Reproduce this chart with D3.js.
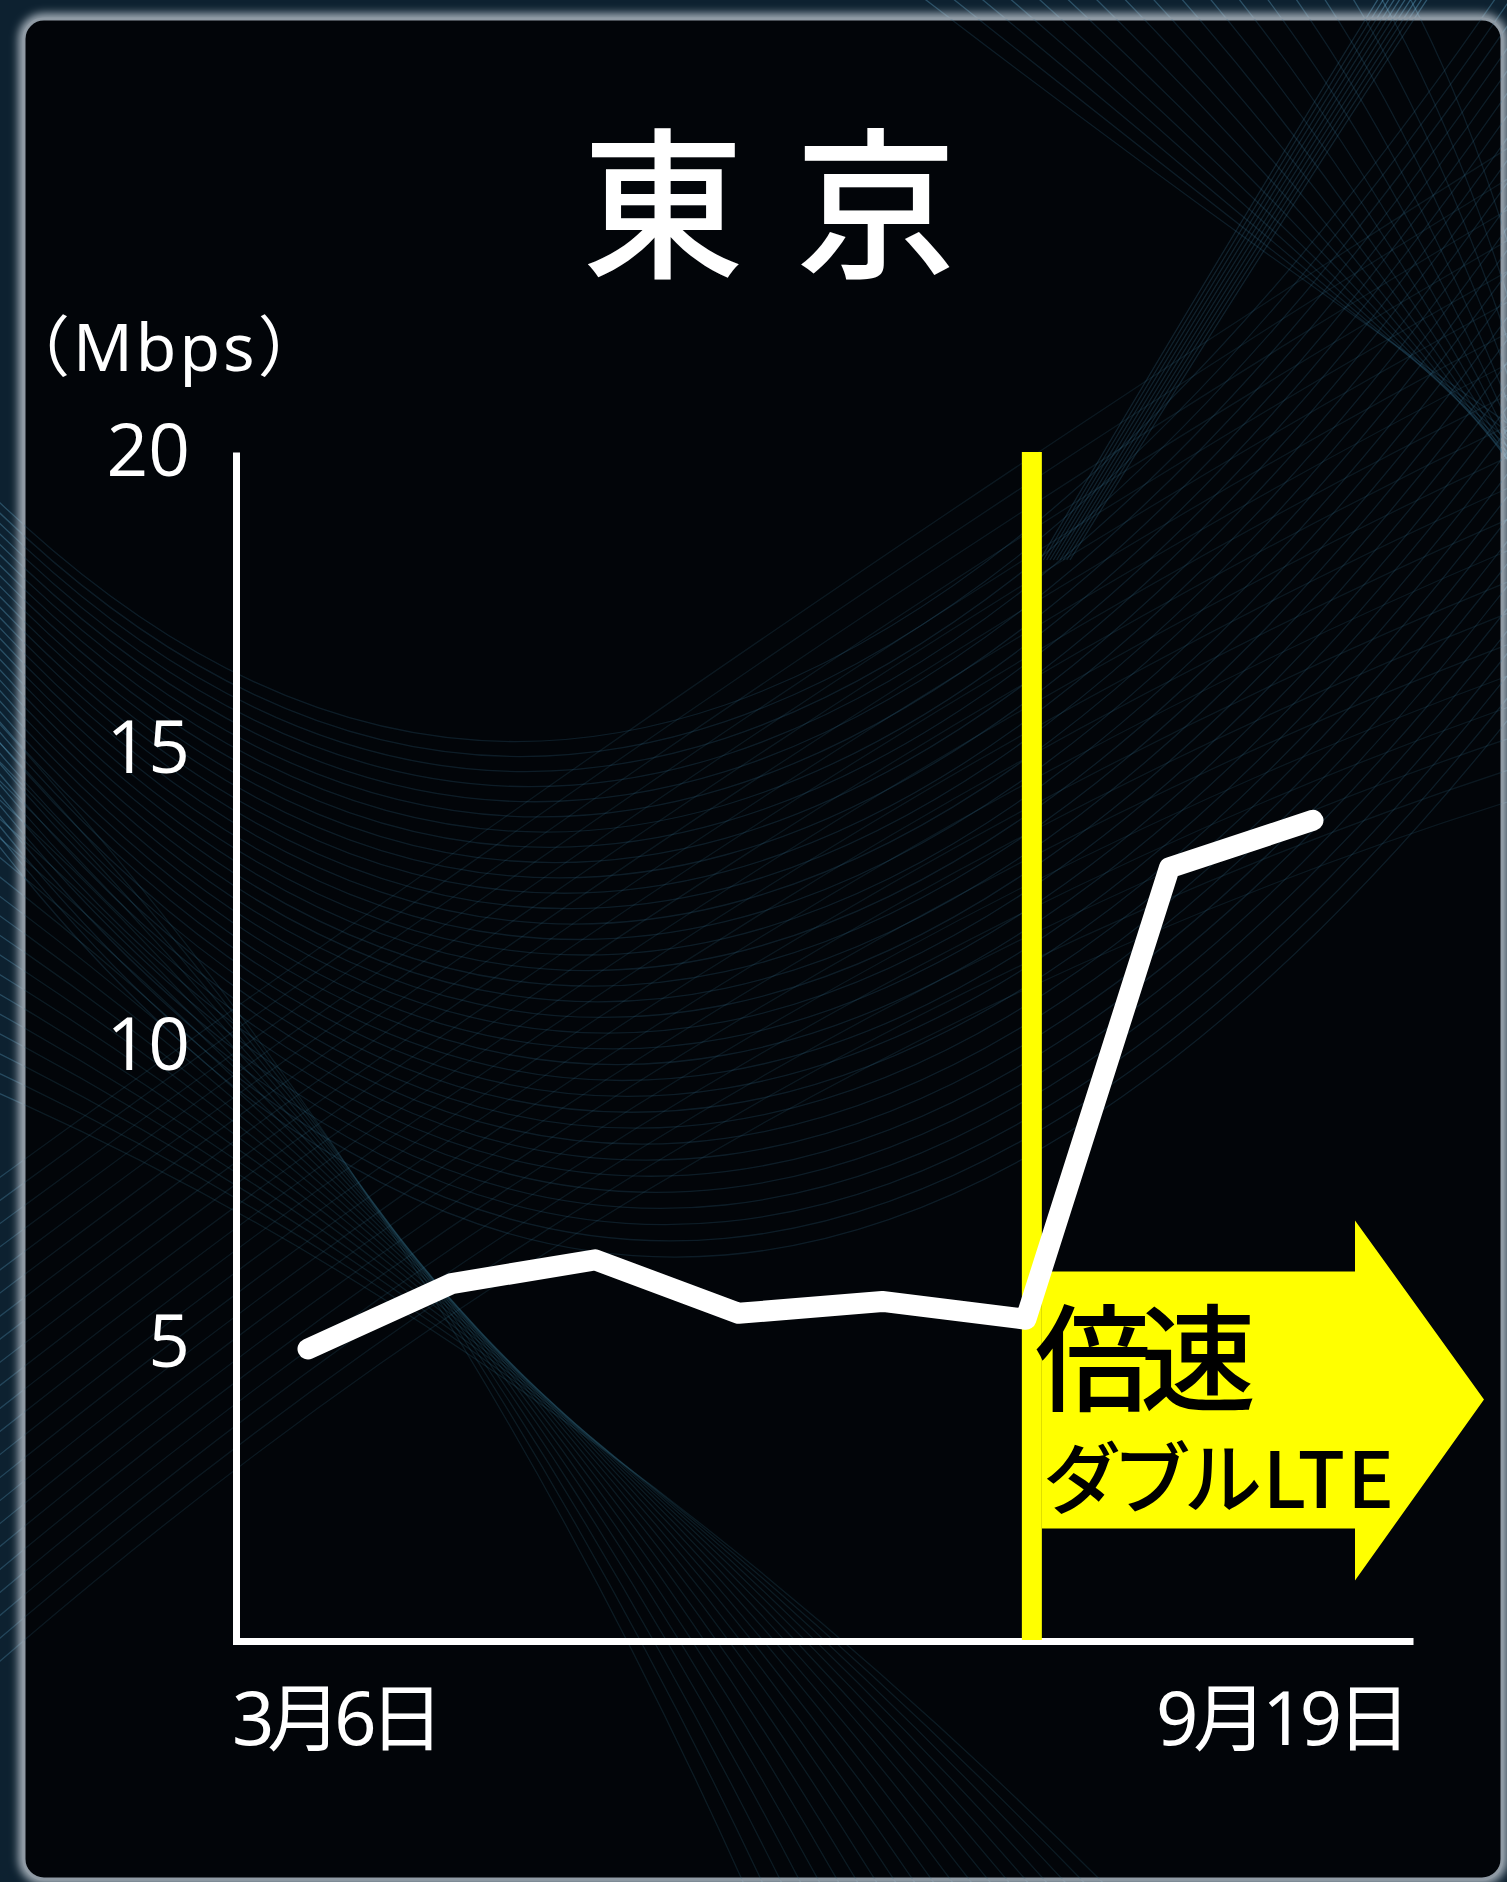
<!DOCTYPE html>
<html lang="ja">
<head>
<meta charset="utf-8">
<script src="https://cdn.jsdelivr.net/npm/d3@7"></script>
<style>
  html, body { margin: 0; padding: 0; background: #0b1c28; }
  svg { display: block; }
  text { font-family: "Noto Sans", "Noto Sans CJK JP", sans-serif; }
</style>
</head>
<body>
<div id="chart"></div>
<script>
// ----- data -----
const title = "東京";
const unitLabel = "（Mbps）";
const points = [0, 1, 2, 3, 4, 5, 6, 7];          // measurement runs, 3/6 ... 9/19
const speeds = [4.9, 6.0, 6.4, 5.5, 5.7, 5.4, 13.0, 13.8];
const yTicks = [5, 10, 15, 20];
const xLabels = ["3月6日", "9月19日"];
const switchPoint = 5;                               // ダブルLTE starts here
const calloutLines = ["倍速", "ダブルLTE"];

const W = 1507, H = 1882;
const plot = { left: 236, right: 1413, top: 452, bottom: 1640 };

const svg = d3.select("#chart").append("svg")
    .attr("width", W)
    .attr("height", H);

const defs = svg.append("defs");
defs.append("filter").attr("id", "glow")
    .append("feGaussianBlur").attr("stdDeviation", 5);
defs.append("clipPath").attr("id", "panelClip")
    .append("rect")
    .attr("x", 24).attr("y", 19).attr("width", 1478).attr("height", 1860).attr("rx", 20);

// ----- background panel -----
svg.append("rect").attr("width", W).attr("height", H).attr("fill", "#0d2130");

// decorative mesh
function meshLines(g, color, opacity) {
    const fam = (n, op, f) => {
        for (let i = 0; i < n; i++) {
            const t = i / (n - 1);
            const [p0, p1, p2] = f(t);
            const p = d3.path();
            p.moveTo(p0[0], p0[1]);
            p.quadraticCurveTo(p1[0], p1[1], p2[0], p2[1]);
            g.append("path").attr("d", p.toString())
                .attr("fill", "none").attr("stroke", color)
                .attr("stroke-opacity", opacity * op).attr("stroke-width", 1.3);
        }
    };
    // bowl
    fam(34, 1, t => [[-80, 420 + t * 320], [690, 1280 + t * 560], [1600, -160 + t * 760]]);
    // crossing from upper right down to the left
    fam(22, 0.8, t => [[1650, 60 + t * 700], [900 - t * 200, 520 + t * 500], [-100, 1250 + t * 500]]);
    // steep ribbon on the right
    fam(10, 1.2, t => [[1390 + t * 50, -20], [1240 + t * 40, 220], [1040 + t * 30, 560]]);
    // lower left cone
    fam(20, 0.9, t => [[-80, 640 + t * 420], [420 + t * 120, 1150 + t * 160], [760 + t * 380, 1920]]);
    // lines from top-left to bottom-right at the top right
    fam(18, 1, t => [[900 + t * 500, -20], [1250 + t * 300, 250], [1620, 500 + t * 300]]);
}
const outerMesh = svg.append("g");
meshLines(outerMesh, "#5fa5c8", 0.35);

// panel with soft border
svg.append("rect")
    .attr("x", 24).attr("y", 19).attr("width", 1478).attr("height", 1860).attr("rx", 20)
    .attr("fill", "none").attr("stroke", "#b9c3cc").attr("stroke-width", 10)
    .attr("filter", "url(#glow)");
svg.append("rect")
    .attr("x", 24).attr("y", 19).attr("width", 1478).attr("height", 1860).attr("rx", 20)
    .attr("fill", "#020509").attr("stroke", "#8f9aa4").attr("stroke-width", 3);

const innerMesh = svg.append("g").attr("clip-path", "url(#panelClip)");
meshLines(innerMesh, "#3b7896", 0.21);

// ----- title -----
svg.append("text")
    .attr("x", 582)
    .attr("y", 266)
    .attr("fill", "#ffffff")
    .style("font-size", "162px")
    .style("font-weight", 500)
    .style("letter-spacing", "51px")
    .text(title);

svg.append("text")
    .attr("x", 4)
    .attr("y", 371)
    .attr("fill", "#ffffff")
    .style("font-size", "66px")
    .style("letter-spacing", "3px")
    .text(unitLabel);

// ----- scales -----
const x = d3.scalePoint()
    .domain(points)
    .range([308, 1313]);

const y = d3.scaleLinear()
    .domain([0, 20])
    .range([plot.bottom, plot.top]);

// ----- axes -----
const yAxis = svg.append("g")
    .attr("transform", `translate(${plot.left},0)`)
    .call(d3.axisLeft(y).tickValues(yTicks).tickSize(0).tickSizeOuter(0).tickPadding(46));
yAxis.select(".domain").attr("stroke", "#ffffff").attr("stroke-width", 7);
yAxis.selectAll("text")
    .attr("fill", "#ffffff")
    .style("font-size", "73px")
    .style("font-family", "'Open Sans', 'Noto Sans', sans-serif");

const xAxisScale = d3.scaleLinear().domain([0, 1]).range([plot.left - 3.5, plot.right]);
const xAxis = svg.append("g")
    .attr("transform", `translate(0,${plot.bottom + 1})`)
    .call(d3.axisBottom(xAxisScale).tickValues([]).tickSizeOuter(0));
xAxis.select(".domain").attr("stroke", "#ffffff").attr("stroke-width", 7);

svg.append("text")
    .attr("x", plot.left - 4)
    .attr("y", 1745)
    .attr("fill", "#ffffff")
    .style("font-size", "74px")
    .style("letter-spacing", "-7px")
    .text(xLabels[0]);
svg.append("text")
    .attr("x", plot.right - 7)
    .attr("y", 1745)
    .attr("text-anchor", "end")
    .attr("fill", "#ffffff")
    .style("font-size", "74px")
    .style("letter-spacing", "-5px")
    .text(xLabels[1]);

// ----- switch marker + arrow -----
const mx = x(switchPoint) + 6;
svg.append("line")
    .attr("x1", mx).attr("x2", mx)
    .attr("y1", y(20)).attr("y2", y(0))
    .attr("stroke", "#ffff00")
    .attr("stroke-width", 20);

const ay = y(4.05);
const ax0 = mx + 10, bodyEnd = 1355, tipX = 1484;
const arrow = d3.path();
arrow.moveTo(ax0, ay - 128);
arrow.lineTo(bodyEnd, ay - 128);
arrow.lineTo(bodyEnd, ay - 179);
arrow.lineTo(tipX, ay);
arrow.lineTo(bodyEnd, ay + 181);
arrow.lineTo(bodyEnd, ay + 129);
arrow.lineTo(ax0, ay + 129);
arrow.closePath();
svg.append("path").attr("d", arrow.toString()).attr("fill", "#ffff00");

// ----- speed line -----
svg.append("path")
    .datum(speeds)
    .attr("d", d3.line().x((d, i) => x(points[i])).y(d => y(d)))
    .attr("fill", "none")
    .attr("stroke", "#ffffff")
    .attr("stroke-width", 21)
    .attr("stroke-linecap", "round")
    .attr("stroke-linejoin", "round");

// ----- callout text -----
svg.append("text")
    .attr("x", 1035)
    .attr("y", 1402)
    .attr("fill", "#000000")
    .style("font-size", "116px")
    .style("font-weight", 500)
    .style("letter-spacing", "-11px")
    .style("font-family", "'Noto Sans CJK JP', sans-serif")
    .text(calloutLines[0]);
svg.append("text")
    .attr("x", 1044)
    .attr("y", 1508)
    .attr("fill", "#000000")
    .style("font-size", "78px")
    .style("font-weight", 500)
    .style("letter-spacing", "2px")
    .style("font-feature-settings", "'palt'")
    .style("font-family", "'Noto Sans CJK JP', sans-serif")
    .text(calloutLines[1]);
</script>
</body>
</html>
